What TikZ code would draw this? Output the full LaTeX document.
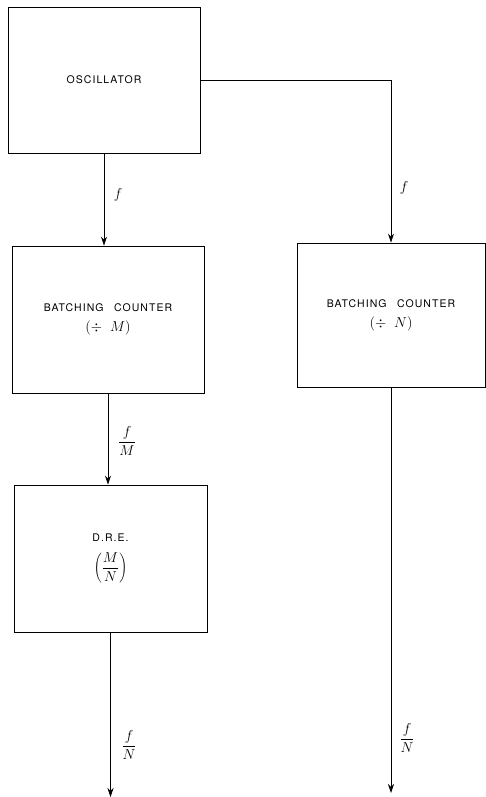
\documentclass[tikz,border=0pt]{standalone}
\usepackage{fontspec}
\setsansfont[LetterSpace=10]{TeX Gyre Heros}
\usetikzlibrary{arrows.meta}
\begin{document}
\begin{tikzpicture}[x=1pt,y=-1pt,
  blk/.style={draw, line width=0.8pt, minimum width=192pt, minimum height=146pt, inner sep=0pt,
              font=\sffamily\fontsize{10.5}{13}\selectfont, align=center},
  conn/.style={line width=0.8pt, -{Stealth[length=9pt,width=6pt]}},
  lbl/.style={font=\Large}]
\useasboundingbox (0,0) rectangle (486,797);
\node[blk] (osc) at (104,80) {OSCILLATOR};
\node[blk, minimum height=147pt] (bcm) at (108,319.5) {BATCHING\quad COUNTER\\[7pt]{\Large$(\div\;\;M)$}};
\node[blk, minimum width=188pt, minimum height=144pt] (bcn) at (391,315) {BATCHING\quad COUNTER\\[7pt]{\Large$(\div\;\;N)$}};
\node[blk, minimum width=193pt, minimum height=147pt] (dre) at (110.5,558.5) {D.R.E.\\[10pt]{\Large$\left(\displaystyle\frac{M}{N}\right)$}};
\coordinate (endl) at (dre.south |- 0,797);
\coordinate (endr) at (bcn.south |- 0,793);
\draw[conn] (osc.south) -- (osc.south |- bcm.north);
\draw[conn] (osc.east) -| (bcn.north);
\draw[conn] (bcm.south) -- (bcm.south |- dre.north);
\draw[conn] (dre.south) -- (endl);
\draw[conn] (bcn.south) -- (endr);
\node[lbl] (l1) at (118,195) {$f$};
\node[lbl] (l2) at (404,188) {$f$};
\node[lbl] (l3) at (127,441) {$\displaystyle\frac{f}{M}$};
\node[lbl] (l4) at (129,745) {$\displaystyle\frac{f}{N}$};
\node[lbl] (l5) at (407,738) {$\displaystyle\frac{f}{N}$};
\end{tikzpicture}
\end{document}
